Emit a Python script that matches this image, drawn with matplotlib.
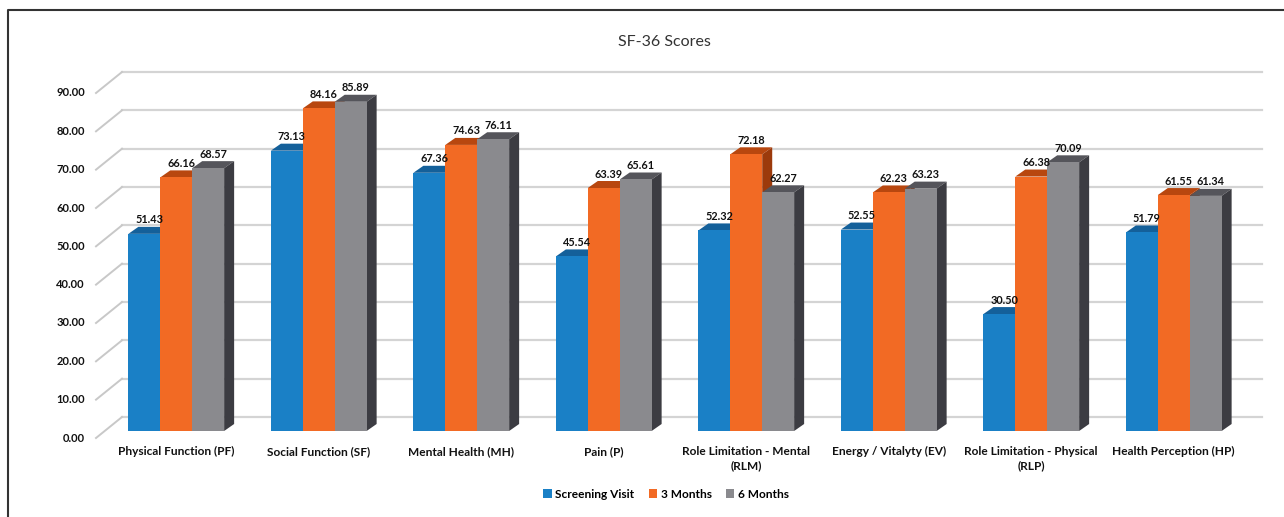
import numpy as np
import matplotlib
matplotlib.use('Agg')
import matplotlib.pyplot as plt
from matplotlib.patches import Polygon, Rectangle
from matplotlib.lines import Line2D

plt.rcParams['font.family'] = ['Lato', 'DejaVu Sans']

categories = ['Physical Function (PF)', 'Social Function (SF)', 'Mental Health (MH)',
              'Pain (P)', 'Role Limitation - Mental\n(RLM)', 'Energy / Vitalyty (EV)',
              'Role Limitation - Physical\n(RLP)', 'Health Perception (HP)']
series = ['Screening Visit', '3 Months', '6 Months']
screening = [51.43, 73.13, 67.36, 45.54, 52.32, 52.55, 30.50, 51.79]
months3 = [66.16, 84.16, 74.63, 63.39, 72.18, 62.23, 66.38, 61.55]
months6 = [68.57, 85.89, 76.11, 65.61, 62.27, 63.23, 70.09, 61.34]
yticks = np.arange(0, 91, 10)

# front / top / side colours of each series
front_cols = ['#1a80c6', '#f26a24', '#8a8a8e']
top_cols = ['#14609a', '#b8470f', '#55555b']
side_cols = ['#0f4f80', '#9c3a0b', '#3c3c42']

W, H = 1284, 517
fig = plt.figure(figsize=(W / 100, H / 100), dpi=100)
# chart frame: only its top and left edges fall inside the picture
fig.lines.append(Line2D([8 / W, 8 / W, 1.0], [0.0, 1 - 10 / H, 1 - 10 / H],
                        transform=fig.transFigure, color='#333333', lw=1.5))

ax = fig.add_axes([96 / W, (H - 438) / H, 1140 / W, 345 / H])
ax.set_xlim(-0.5, 7.5)
ax.set_ylim(0, 90)
ax.axis('off')

# pixel -> data unit helpers (axes size fixed)
px_x = 1140 / 8.0
px_y = 345 / 90.0
def dx(p):
    return p / px_x
def dy(p):
    return p / px_y

wall_x, wall_y = dx(26), dy(21)
bar_x, bar_y = dx(9), dy(7)
dep_x, dep_y = dx(10), dy(7)

# back wall grid + diagonal ticks
for v in yticks:
    ax.plot([-0.5 + wall_x, 7.5 + wall_x], [v + wall_y, v + wall_y], color='#d4d4d4',
            lw=1.6, clip_on=False, zorder=1)
    ax.plot([-0.5, -0.5 + wall_x], [v, v + wall_y], color='#c8c8c8', lw=1.4,
            clip_on=False, zorder=1)
    ax.text(-0.5 - dx(11), v, '%.2f' % v, ha='right', va='center', fontsize=8,
            fontweight='bold', color='#111111')

x = np.arange(len(categories))
width = 0.224
data = [screening, months3, months6]

for i in range(len(categories)):
    for s in range(3):
        val = data[s][i]
        left = x[i] - 1.5 * width + s * width + bar_x
        right = left + width
        base = bar_y
        top = base + val
        z = 3 + s
        ax.add_patch(Rectangle((left, base), width, val, facecolor=front_cols[s],
                               edgecolor='none', zorder=z + 0.2, clip_on=False))
        ax.add_patch(Polygon([(left, top), (right, top), (right + dep_x, top + dep_y),
                              (left + dep_x, top + dep_y)], closed=True,
                             facecolor=top_cols[s], edgecolor='none', zorder=z, clip_on=False))
        ax.add_patch(Polygon([(right, base), (right + dep_x, base + dep_y),
                              (right + dep_x, top + dep_y), (right, top)], closed=True,
                             facecolor=side_cols[s], edgecolor='none', zorder=z, clip_on=False))
        ax.text(left + width / 2 + dep_x / 2, top + dep_y + dy(1.5), '%.2f' % val,
                ha='center', va='bottom', fontsize=7.8, fontweight='bold',
                color='#111111', zorder=10, clip_on=False)
    ax.text(x[i] + bar_x, -dy(8), categories[i], ha='center', va='top', fontsize=8.6,
            fontweight='bold', color='#111111', linespacing=1.4)

fig.text(664 / W, 1 - 42 / H, 'SF-36 Scores', ha='center', va='center', fontsize=11.5,
         color='#333333')

handles = [Rectangle((0, 0), 1, 1, facecolor=c, edgecolor='none') for c in front_cols]
fig.legend(handles, series, loc='center', bbox_to_anchor=(666 / W, 1 - 494 / H), ncol=3,
           frameon=False, prop={'size': 8.6, 'weight': 'bold'}, handlelength=0.7,
           handleheight=0.7, handletextpad=0.3, columnspacing=1.2)

fig.savefig('out.png', dpi=100)
